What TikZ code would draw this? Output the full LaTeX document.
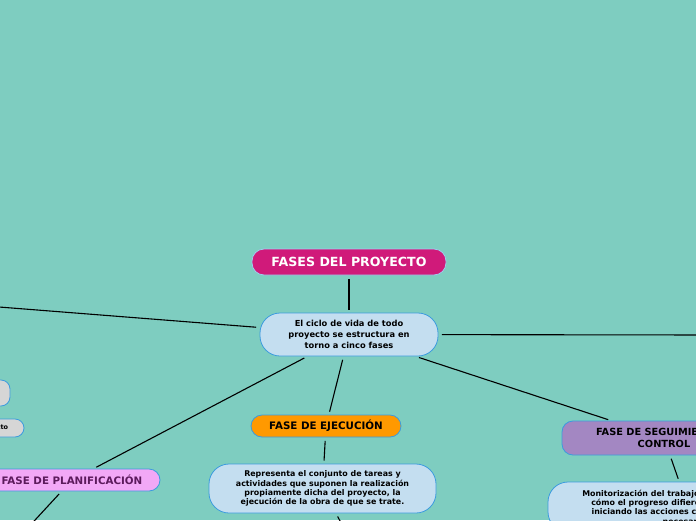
\documentclass[tikz,border=0pt]{standalone}
\usepackage{fontspec}
\setmainfont{DejaVu Sans}
\usetikzlibrary{positioning}
\definecolor{mapbg}{RGB}{126,205,192}
\definecolor{edgeblue}{RGB}{60,155,222}
\definecolor{rootpink}{RGB}{208,26,122}
\definecolor{noteblue}{RGB}{196,222,240}
\definecolor{ejorange}{RGB}{255,153,0}
\definecolor{planpink}{RGB}{242,168,246}
\definecolor{planpurple}{RGB}{92,26,92}
\definecolor{segpurple}{RGB}{163,135,194}
\definecolor{leafgrey}{RGB}{214,214,214}

\begin{document}
\begin{tikzpicture}[
    x=1pt, y=-1pt,
    pill/.style={draw=edgeblue, line width=0.8pt, rounded corners=#1,
                 align=center, inner sep=0pt},
    phase/.style={pill=11pt, minimum height=22pt, font=\fontsize{10.3}{12}\bfseries},
    note/.style={pill=20pt, fill=noteblue, font=\fontsize{7.9}{9.3}\bfseries},
    leaf/.style={pill=9pt, fill=leafgrey, font=\fontsize{6.5}{7}\bfseries},
    conn/.style={line width=1.1pt, shorten <=3.5pt, shorten >=3pt},
]

% ── Frame ────────────────────────────────────────────────────
\useasboundingbox (0,0) rectangle (696,520);
\clip (0,0) rectangle (696,520);
\fill[mapbg] (0,0) rectangle (696,520);

% ── Centre ───────────────────────────────────────────────────
\node[pill=12pt, fill=rootpink, draw=edgeblue!50!white, text=white,
      minimum width=194pt, minimum height=26pt,
      font=\fontsize{12.6}{14}\bfseries] (root) at (349,262) {FASES DEL PROYECTO};

\node[note, minimum width=178pt, minimum height=43pt,
      font=\fontsize{8.3}{11}\bfseries] (ciclo) at (349,334.5) {
    El ciclo de vida de todo\\
    proyecto se estructura en\\
    torno a cinco fases
};

\draw[conn] (root) -- (ciclo);

% ── Branches leaving the frame ───────────────────────────────
\coordinate (westend) at (-20,305.5);
\coordinate (eastend) at (716,335);
\draw[conn] (ciclo) -- (westend);
\draw[conn] (ciclo) -- (eastend);

\node[leaf, minimum width=100pt, minimum height=26pt] (leafa) at (-40,393) {};
\node[leaf, minimum width=64pt, minimum height=18pt] (leafb) at (-8,428) {proyecto};

% ── Ejecución ────────────────────────────────────────────────
\node[phase, fill=ejorange, minimum width=150pt] (ejec) at (326,426) {FASE DE EJECUCIÓN};

\node[note, minimum width=227pt, minimum height=49pt] (ejecdesc) at (322.5,488.5) {
    Representa el conjunto de tareas y\\
    actividades que suponen la realización\\
    propiamente dicha del proyecto, la\\
    ejecución de la obra de que se trate.
};

\coordinate (ejecnext) at (346,532);
\draw[conn] (ciclo) -- (ejec);
\draw[conn] (ejec) -- (ejecdesc);
\draw[conn] (ejecdesc) -- (ejecnext);

% ── Planificación ────────────────────────────────────────────
\node[phase, fill=planpink, text=planpurple, minimum width=176pt] (plan) at (72,480) {FASE DE PLANIFICACIÓN};

\coordinate (plannext) at (24,532);
\draw[conn] (ciclo) -- (plan);
\draw[conn] (plan) -- (plannext);

% ── Seguimiento y control ────────────────────────────────────
\node[phase, fill=segpurple, minimum width=204pt, minimum height=34pt,
      font=\fontsize{9.8}{12}\bfseries] (segui) at (664,438) {
    FASE DE SEGUIMIENTO Y\\
    CONTROL
};

\node[note, minimum width=280pt, minimum height=50pt] (seguidesc) at (688,507) {
    Monitorización del trabajo del proyecto, viendo\\
    cómo el progreso difiere de lo planificado e\\
    iniciando las acciones correctivas que sean\\
    necesarias.
};

\draw[conn] (ciclo) -- (segui);
\draw[conn] (segui) -- (seguidesc);

\end{tikzpicture}
\end{document}
